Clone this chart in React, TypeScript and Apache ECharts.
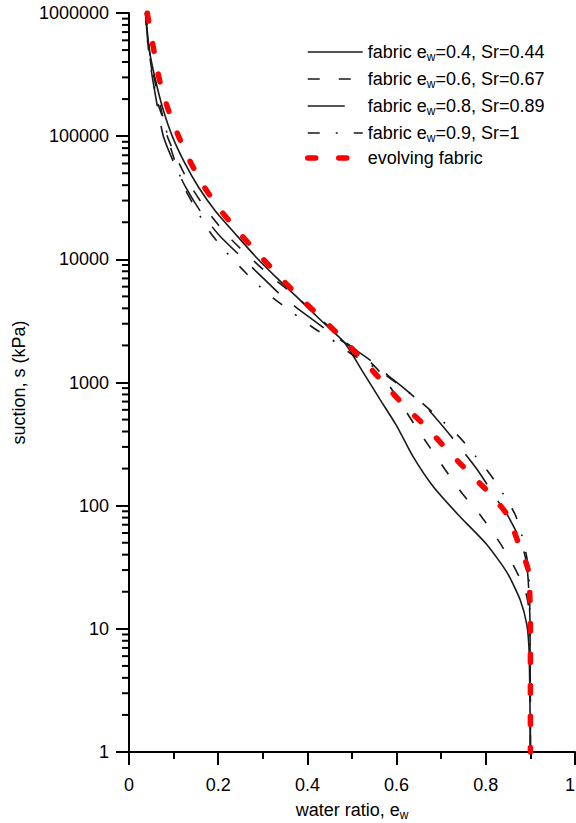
import React, { useEffect, useRef } from "react";
import * as echarts from "echarts";

// ---- data: [water ratio e_w, suction s (kPa)] ----
const fabric04: [number, number][] = [
  [0.037, 1000000], [0.046, 491000], [0.059, 290000], [0.075, 172000], [0.097, 100000],
  [0.124, 61500], [0.156, 38500], [0.194, 24600], [0.239, 16000], [0.283, 10600],
  [0.330, 7140], [0.375, 5000], [0.433, 3130], [0.483, 2110], [0.525, 1210],
  [0.563, 727], [0.601, 439], [0.637, 250], [0.682, 143], [0.738, 84.5],
  [0.803, 48], [0.848, 28.5], [0.877, 17.2], [0.892, 10.8], [0.897, 6.7],
  [0.899, 2.6], [0.9, 1],
];
const fabric06: [number, number][] = [
  [0.039, 1000000], [0.046, 491000], [0.057, 290000], [0.071, 172000], [0.086, 100000],
  [0.111, 61500], [0.140, 38500], [0.176, 24600], [0.218, 16000], [0.268, 10600],
  [0.321, 7140], [0.375, 5000], [0.436, 3130], [0.483, 2150], [0.523, 1690],
  [0.563, 1210], [0.604, 727], [0.637, 473], [0.675, 296], [0.709, 196],
  [0.749, 123], [0.787, 84.5], [0.827, 53], [0.861, 33.1], [0.888, 20.7],
  [0.897, 14.3], [0.899, 8.1], [0.9, 1],
];
const fabric08: [number, number][] = [
  [0.037, 1000000], [0.044, 491000], [0.053, 290000], [0.064, 172000], [0.077, 100000],
  [0.100, 61500], [0.127, 38500], [0.160, 24600], [0.200, 16000], [0.250, 10600],
  [0.299, 7140], [0.346, 4910], [0.411, 3250], [0.463, 2360], [0.507, 1850],
  [0.545, 1480], [0.581, 1140], [0.615, 910], [0.671, 603], [0.732, 331],
  [0.781, 196], [0.825, 112], [0.848, 84.5], [0.877, 53], [0.890, 36.4],
  [0.895, 25], [0.899, 11.8], [0.9, 1],
];
const fabric09: [number, number][] = [
  [0.037, 1000000], [0.041, 615000], [0.062, 200000], [0.079, 130000], [0.093, 81400],
  [0.109, 54000], [0.127, 36400], [0.153, 24600], [0.180, 16900], [0.212, 12100],
  [0.250, 8610], [0.283, 6500], [0.324, 4820], [0.366, 3710], [0.409, 2850],
  [0.454, 2240], [0.497, 1720], [0.550, 1330], [0.601, 981], [0.653, 701],
  [0.704, 482], [0.742, 357], [0.776, 255], [0.810, 179], [0.839, 125],
  [0.866, 84.5], [0.881, 57], [0.892, 37.8], [0.897, 25], [0.899, 11.8], [0.9, 1],
];
const evolving: [number, number][] = [
  [0.041, 1000000], [0.044, 861000], [0.056, 491000], [0.068, 290000], [0.086, 172000],
  [0.111, 100000], [0.138, 61500], [0.169, 38500], [0.207, 24600], [0.250, 16000],
  [0.295, 10600], [0.339, 7140], [0.380, 5000], [0.440, 3130], [0.485, 2150],
  [0.530, 1450], [0.574, 963], [0.619, 638], [0.668, 430], [0.713, 285],
  [0.760, 189], [0.805, 130], [0.848, 84.5], [0.872, 51], [0.895, 30.2],
  [0.899, 17.2], [0.9, 9.8], [0.9, 3.2], [0.9, 1],
];

const seriesNames = [
  "fabric ew=0.4, Sr=0.44",
  "fabric ew=0.6, Sr=0.67",
  "fabric ew=0.8, Sr=0.89",
  "fabric ew=0.9, Sr=1",
  "evolving fabric",
];
const richNames = [
  "{a|fabric e}{s|w}{a|=0.4, Sr=0.44}",
  "{a|fabric e}{s|w}{a|=0.6, Sr=0.67}",
  "{a|fabric e}{s|w}{a|=0.8, Sr=0.89}",
  "{a|fabric e}{s|w}{a|=0.9, Sr=1}",
  "{a|evolving fabric}",
];

const minorMultipliers = [2, 3, 4, 5, 6, 7, 8, 9];
const decades = [1, 10, 100, 1000, 10000, 100000];

const FONT = "Liberation Sans, Arial, Helvetica, sans-serif";
const BLACK = "#1a1a1a";

export default function App() {
  const ref = useRef<HTMLDivElement>(null);
  useEffect(() => {
    document.documentElement.style.overflow = "hidden";
    document.body.style.margin = "0";
    document.body.style.overflow = "hidden";
    if (!ref.current) return;
    const chart = echarts.init(ref.current, null, { renderer: "svg" });

    const minorTicks: [number, number][] = [];
    decades.forEach((d) => minorMultipliers.forEach((m) => minorTicks.push([0, m * d])));

    const lineStyles: any[] = [
      { color: BLACK, width: 1.6, type: "solid" },
      { color: BLACK, width: 1.6, type: [12, 19] },
      { color: BLACK, width: 1.6, type: [37, 20] },
      { color: BLACK, width: 1.6, type: [12, 16, 2, 16] },
      { color: "#ff0000", width: 5.5, type: [8, 23], cap: "round" },
    ];
    const datasets = [fabric04, fabric06, fabric08, fabric09, evolving];
    const richMap: Record<string, string> = {};
    seriesNames.forEach((n, i) => (richMap[n] = richNames[i]));

    const rich = {
      a: { fontSize: 18, lineHeight: 22, fontFamily: FONT, color: "#000" },
      s: { fontSize: 12, lineHeight: 12, padding: [10, 0, 0, 0], fontFamily: FONT, color: "#000" },
    };

    chart.setOption({
      animation: false,
      textStyle: { fontFamily: FONT },
      grid: {
        left: 129,
        right: 1,
        top: 13,
        bottom: 71,
        containLabel: false,
        outerBoundsMode: "none",
      },
      legend: {
        orient: "vertical",
        left: 305,
        top: 41,
        padding: 0,
        itemWidth: 55,
        itemHeight: 14,
        itemGap: 5,
        selectedMode: false,
        formatter: (name: string) => richMap[name] || name,
        textStyle: { fontSize: 18, color: "#000", fontFamily: FONT, rich },
        data: seriesNames.map((n, i) => ({
          name: n,
          lineStyle: lineStyles[i],
          itemStyle: { opacity: 0, borderWidth: 0 },
        })),
      },
      xAxis: {
        type: "value",
        min: 0,
        max: 1,
        interval: 0.2,
        name: "{a|water ratio, e}{s|w}",
        nameLocation: "middle",
        nameGap: 45,
        nameTextStyle: { fontSize: 18, color: "#000", fontFamily: FONT, rich },
        axisLine: { lineStyle: { color: "#000", width: 2 } },
        axisTick: { length: 13, lineStyle: { color: "#000", width: 2 } },
        minorTick: { show: true, splitNumber: 2, length: 7, lineStyle: { color: "#000", width: 2 } },
        axisLabel: {
          fontSize: 18,
          color: "#000",
          fontFamily: FONT,
          margin: 24,
          alignMaxLabel: "right",
        },
        splitLine: { show: false },
        minorSplitLine: { show: false },
      },
      yAxis: {
        type: "log",
        logBase: 10,
        min: 1,
        max: 1000000,
        splitNumber: 6,
        name: "suction, s (kPa)",
        nameLocation: "middle",
        nameGap: 97,
        nameTextStyle: { fontSize: 18, color: "#000", fontFamily: FONT },
        axisLine: { lineStyle: { color: "#000", width: 2 } },
        axisTick: { length: 13, lineStyle: { color: "#000", width: 2 } },
        axisLabel: {
          fontSize: 18,
          color: "#000",
          fontFamily: FONT,
          margin: 20,
          formatter: (v: number) => String(Math.round(v)),
        },
        splitLine: { show: false },
      },
      series: [
        ...datasets.map((d, i) => ({
          name: seriesNames[i],
          type: "line",
          data: d,
          symbol: "none",
          smooth: 0.2,
          lineStyle: lineStyles[i],
          itemStyle: { color: lineStyles[i].color },
          z: i === 4 ? 5 : 3,
          clip: true,
        })),
        {
          type: "custom",
          name: "minorTicks",
          data: minorTicks,
          silent: true,
          clip: false,
          z: 10,
          renderItem: (params: any, api: any) => {
            const p = api.coord([0, api.value(1)]);
            return {
              type: "line",
              shape: { x1: p[0] - 7, y1: p[1], x2: p[0], y2: p[1] },
              style: { stroke: "#000", lineWidth: 2 },
            };
          },
        },
      ],
    });
    return () => chart.dispose();
  }, []);
  return (
    <div
      ref={ref}
      style={{ position: "absolute", left: 0, top: 0, width: 576, height: 823, background: "#fff" }}
    />
  );
}
